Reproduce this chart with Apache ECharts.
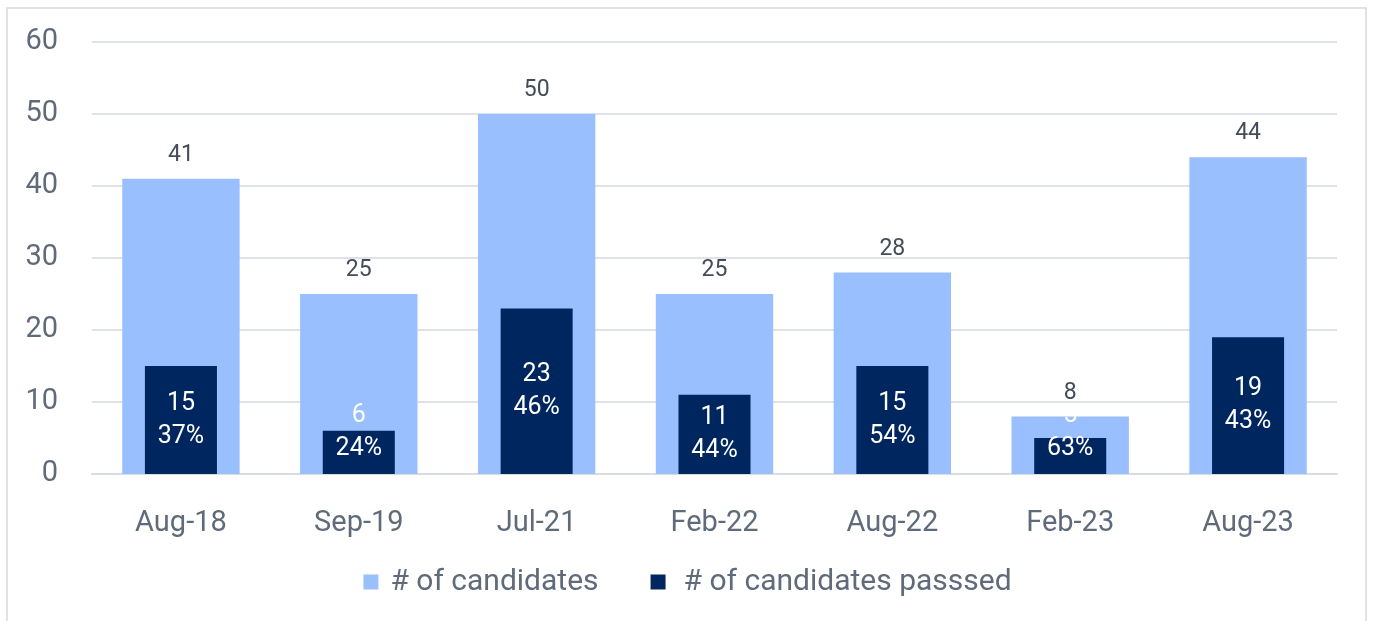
<!DOCTYPE html>
<html>
<head>
<meta charset="utf-8">
<script src="https://cdn.jsdelivr.net/npm/echarts@6/dist/echarts.min.js"></script>
<style>
  html, body { margin: 0; padding: 0; background: #fff; }
  #chart { width: 1375px; height: 621px; }
</style>
</head>
<body>
<div id="chart"></div>
<script>
// 数据
const months = ['Aug-18', 'Sep-19', 'Jul-21', 'Feb-22', 'Aug-22', 'Feb-23', 'Aug-23'];
const candidates = [41, 25, 50, 25, 28, 8, 44];
const passed = [15, 6, 23, 11, 15, 5, 19];
const passRate = ['37%', '24%', '46%', '44%', '54%', '63%', '43%'];
const yTicks = [0, 10, 20, 30, 40, 50, 60];

const textColor = '#5f6b7a';
const font = 'Roboto, "Noto Sans", sans-serif';

// 小柱子的标签放在底部
const smallBars = [1, 5];

const myChart = echarts.init(document.getElementById('chart'));
myChart.setOption({
  animation: false,
  graphic: [
    {
      type: 'rect',
      shape: { x: 7, y: 8, width: 1359, height: 640 },
      style: { fill: 'none', stroke: '#d9d9d9', lineWidth: 1.5 },
      silent: true,
    },
  ],
  grid: { left: 92, right: 38, top: 42, bottom: 147 },
  legend: {
    bottom: 19,
    left: 'center',
    itemWidth: 15,
    itemHeight: 15,
    itemGap: 52,
    icon: 'rect',
    textStyle: { color: textColor, fontSize: 30, fontFamily: font, padding: [0, 0, 0, 7] },
    data: [
      { name: '# of candidates' },
      { name: '# of candidates passsed', textStyle: { padding: [0, 0, 0, 13] } },
    ],
  },
  xAxis: [
    {
      type: 'category',
      data: months,
      axisLine: { lineStyle: { color: '#d9dde3', width: 2 } },
      axisTick: { show: false },
      axisLabel: { color: textColor, fontSize: 29, fontFamily: font, margin: 35 },
    },
    {
      type: 'category',
      data: months,
      show: false,
    },
  ],
  yAxis: {
    type: 'value',
    min: yTicks[0],
    max: yTicks[yTicks.length - 1],
    interval: 10,
    axisLine: { show: false },
    axisTick: { show: false },
    splitLine: { lineStyle: { color: '#dfe2e6', width: 2 } },
    axisLabel: { color: textColor, fontSize: 29, fontFamily: font, margin: 34 },
  },
  series: [
    {
      name: '# of candidates',
      type: 'bar',
      xAxisIndex: 0,
      data: candidates,
      barWidth: '66%',
      itemStyle: { color: '#99bfff' },
      label: {
        show: true,
        position: 'top',
        distance: 12,
        color: '#434c57',
        fontSize: 23,
        fontFamily: font,
      },
      z: 2,
    },
    {
      name: '# of candidates passsed',
      type: 'bar',
      xAxisIndex: 1,
      data: passed.map((v, i) => {
        const item = { value: v };
        if (smallBars.includes(i)) {
          item.label = { position: 'insideBottom', distance: 9 };
        }
        return item;
      }),
      barWidth: '40.5%',
      itemStyle: { color: '#00265f' },
      label: {
        show: true,
        position: 'inside',
        color: '#ffffff',
        fontSize: 25,
        lineHeight: 33,
        fontFamily: font,
        formatter: p => p.value + '\n' + passRate[p.dataIndex],
      },
      z: 3,
    },
  ],
});
</script>
</body>
</html>
